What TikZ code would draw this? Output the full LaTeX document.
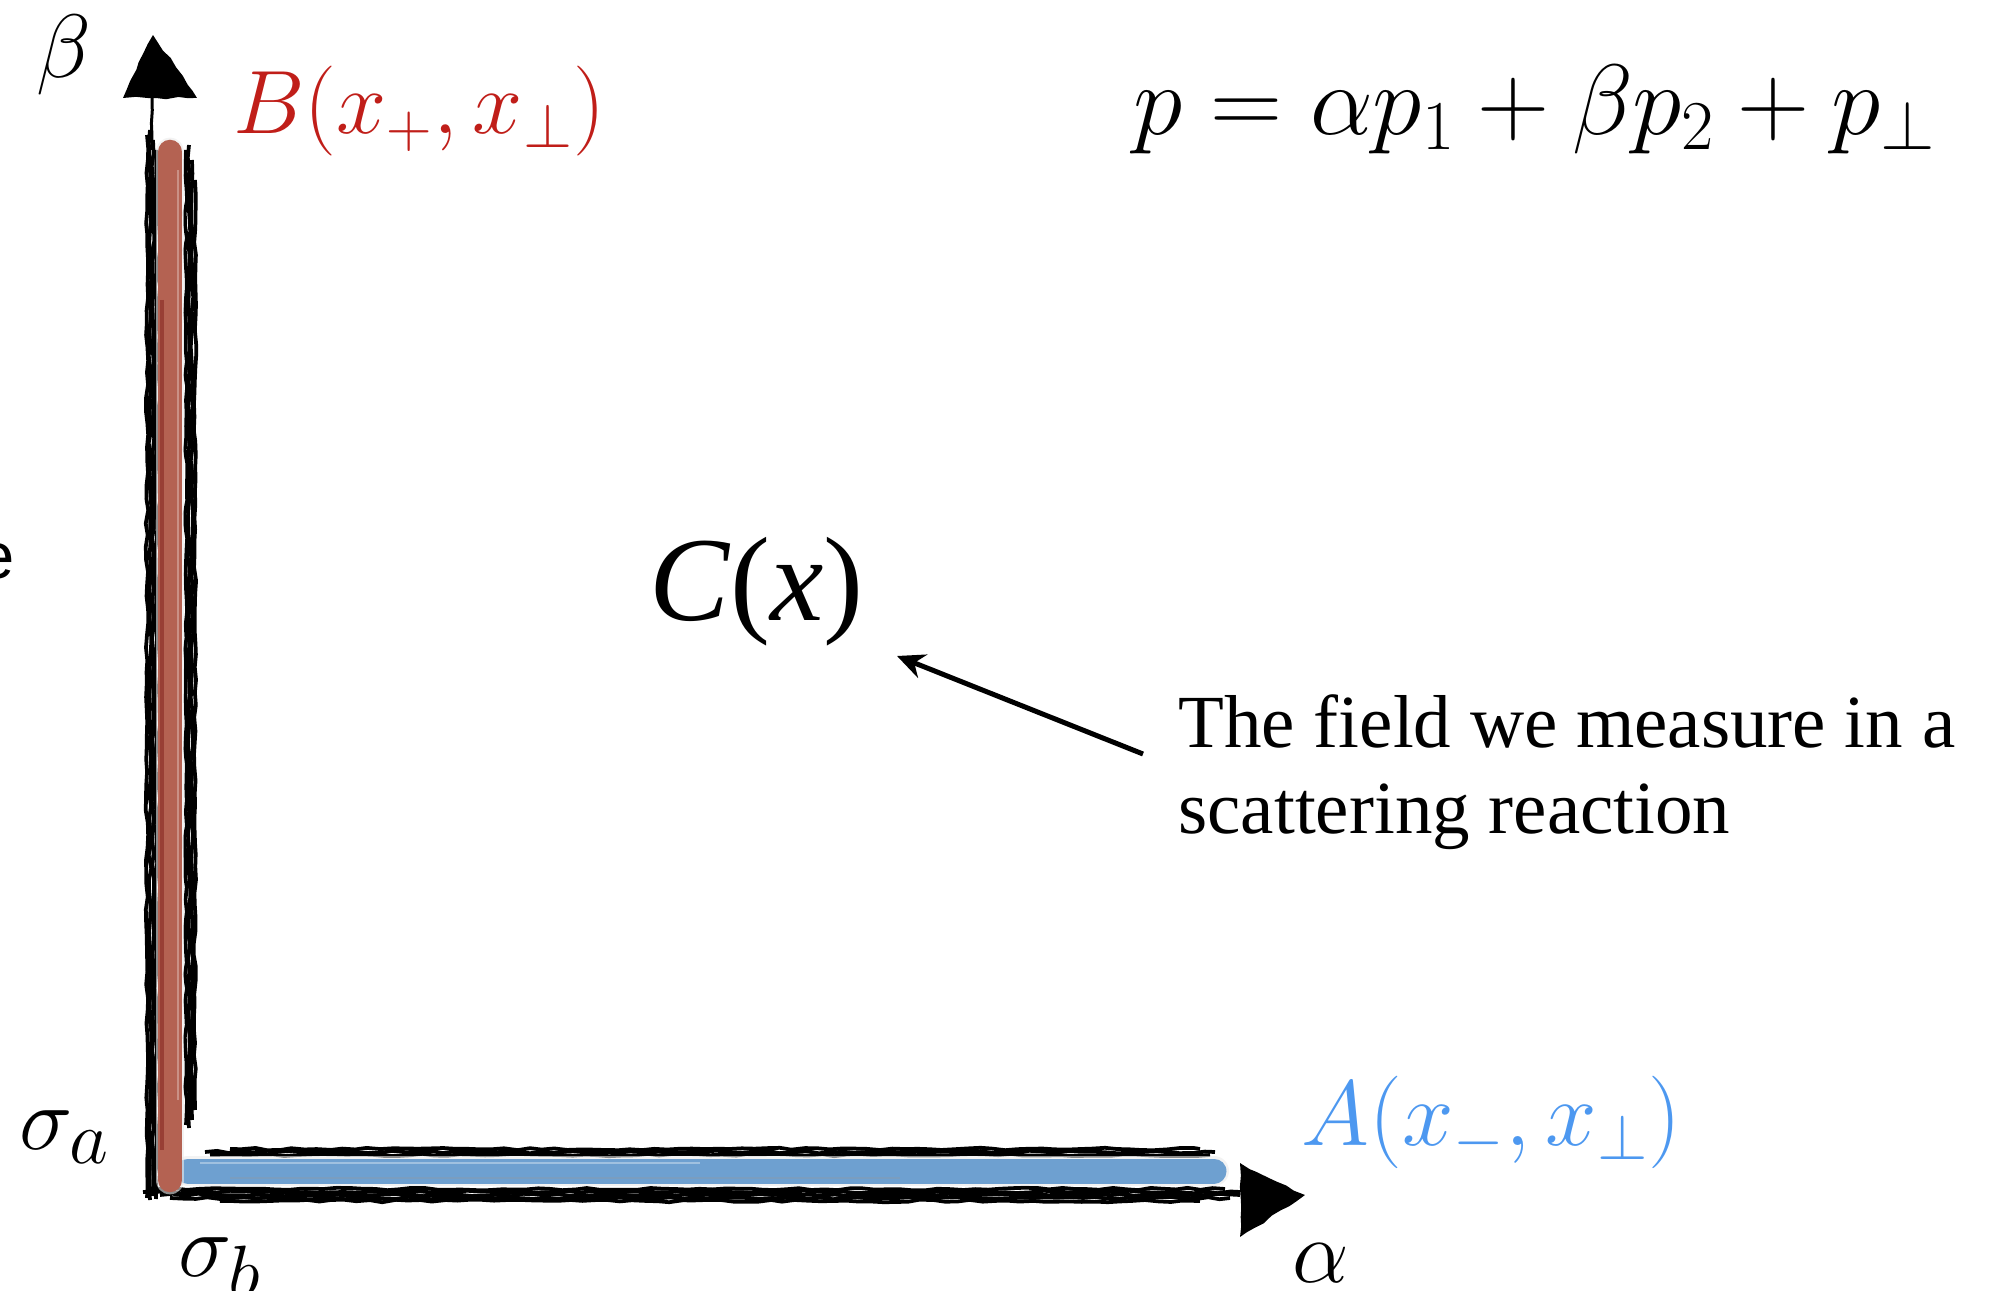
\RequirePackage{fix-cm}
\documentclass[tikz,border=0pt]{standalone}
\usepackage{graphicx}
\usepackage{fontspec}
\setmainfont{Liberation Serif}
\newfontfamily\helvfont{Liberation Sans}
\usetikzlibrary{decorations.pathmorphing,arrows.meta}
\definecolor{bred}{RGB}{192,30,25}
\definecolor{ablue}{RGB}{77,152,240}
\definecolor{barred}{RGB}{180,98,82}
\definecolor{barblue}{RGB}{110,160,208}
\newcommand{\bigsub}[1]{\scalebox{1.2}{$\scriptstyle #1$}}
\begin{document}
\begin{tikzpicture}[x=0.4pt,y=-0.4pt,
  rough/.style={decorate,decoration={random steps,segment length=5pt,amplitude=0.5pt},line width=1.5pt,black},
  mathlab/.style={inner sep=0pt,font=\fontsize{36}{40}\selectfont},
  halo/.style={line cap=round,draw=black!8,opacity=0.6},
  colbar/.style={line cap=round},
  pointer/.style={line width=2pt,-{Stealth[length=11pt,width=10pt]}}
]
\useasboundingbox (0,0) rectangle (1996,1291);
\pgfmathsetseed{7}
% vertical axis strokes
\draw[rough,line width=1.2pt] (152,98) -- (152,150);
\foreach \x/\a/\b in {147/135/1198,150/130/1200,153/140/1196,156/150/1199}
  \draw[rough] (\x,\a) -- (\x,\b);
\foreach \x/\a/\b in {186/150/1125,189/145/1128,192/160/1120,195/180/1110}
  \draw[rough] (\x,\a) -- (\x,\b);
% horizontal axis strokes
\foreach \y/\a/\b in {1189/150/1225,1192/143/1240,1195/160/1240,1198/170/1230,1201/220/1200}
  \draw[rough] (\a,\y) -- (\b,\y);
\foreach \y/\a/\b in {1149/230/1200,1152/205/1215,1155/210/1210}
  \draw[rough] (\a,\y) -- (\b,\y);
% arrow heads of the axes
\fill[decorate,decoration={random steps,segment length=4pt,amplitude=0.6pt}] (123,98) -- (153,35) -- (197,98) -- cycle;
\fill[decorate,decoration={random steps,segment length=4pt,amplitude=0.6pt}] (1240,1163) -- (1305,1195) -- (1240,1237) -- cycle;
% blue bar
\draw[halo,line width=12pt] (188,1171) -- (1214,1171);
\draw[colbar,draw=barblue,line width=10pt] (188,1171) -- (1214,1171);
\draw[white,opacity=0.35,line width=1pt] (200,1163) -- (700,1163);
\draw[black!40,opacity=0.3,line width=0.8pt] (230,1178) -- (900,1178);
% red bar
\draw[halo,line width=11.5pt] (170,152) -- (170,1180);
\draw[colbar,draw=barred,line width=9.8pt] (170,152) -- (170,1180);
\draw[black!60!red,opacity=0.35,line width=1.5pt] (162,300) -- (162,1150);
\draw[white,opacity=0.3,line width=1pt] (178,170) -- (178,1100);
% labels
\node[mathlab,anchor=base west] (beta) at (36,78) {$\beta$};
\node[mathlab,anchor=base west,text=bred] (B) at (233,134) {$B(x_+,x_\perp)$};
\node[anchor=base west,inner sep=0pt,font=\fontsize{40}{44}\selectfont] (pform) at (1133,135) {$p=\alpha p_1+\beta p_2+p_\perp$};
\node[anchor=base west,inner sep=0pt,font=\fontsize{48}{52}\selectfont] (C) at (649,621) {\textit{C}(\textit{x})};
\node[anchor=base west,inner sep=0pt,align=left,font=\fontsize{30}{34.4}\selectfont] (txt) at (1178,834) {The field we measure in a\\scattering reaction};
\node[anchor=base west,inner sep=0pt,font=\fontsize{37}{41}\selectfont,text=ablue] (A) at (1301,1146) {$A(x_-,x_\perp)$};
\node[mathlab,anchor=base west] (sa) at (19,1150) {$\sigma_{\bigsub{a}}$};
\node[mathlab,anchor=base west] (sb) at (178,1277) {$\sigma_{\bigsub{b}}$};
\node[mathlab,anchor=base west] (al) at (1292,1283) {$\alpha$};
\node[anchor=base east,inner sep=0pt,font=\helvfont\fontsize{26}{30}\selectfont] (e) at (15,579) {e};
% pointer
\coordinate (ptrstart) at (1143,754);
\coordinate (ptrend) at (897,656);
\draw[pointer] (ptrstart) -- (ptrend);
\end{tikzpicture}
\end{document}
